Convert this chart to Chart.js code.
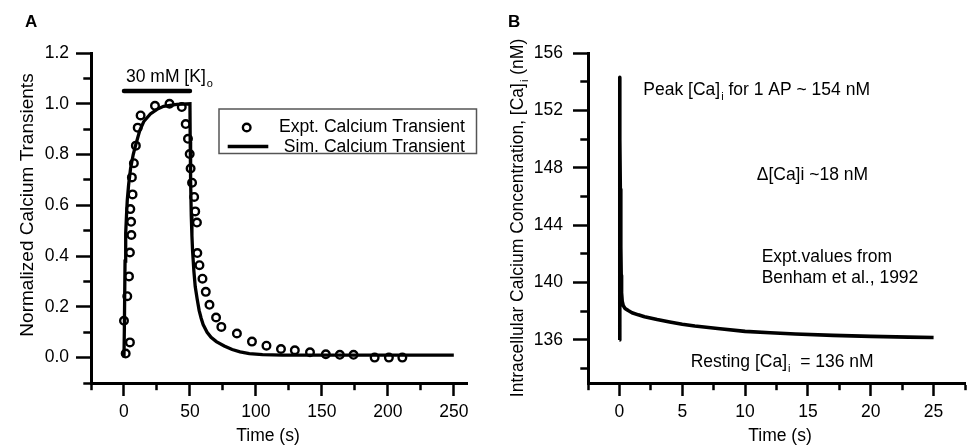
<!DOCTYPE html>
<html>
<head>
<meta charset="utf-8">
<title>Calcium transients</title>
<script src="https://cdn.jsdelivr.net/npm/chart.js@4.4.1/dist/chart.umd.min.js"></script>
<style>
  html, body { margin: 0; padding: 0; background: #fff; }
  .wrap { position: relative; width: 972px; height: 445px; }
  canvas { position: absolute; top: 0; }
  #panelA { left: 0; }
  #panelB { left: 486px; }
</style>
</head>
<body>
<div class="wrap">
  <canvas id="panelA" width="486" height="445"></canvas>
  <canvas id="panelB" width="486" height="445"></canvas>
</div>
<script>
const FONT = '"Liberation Sans", Arial, Helvetica, sans-serif';

// A - response to 30 mM K+ applied from 0 to 50 s
const exptTime = [0, 1.3, 4.5, 2.5, 3.8, 4.5, 5.6, 5.4, 4.8, 6.5, 6, 7.5, 9, 10.4, 12.6, 23.5, 34.5, 43.8, 46.8, 48.5,
  49.8, 50.5, 51.6, 53.2, 54, 55.3, 55.6, 57.2, 59.5, 62, 64.8, 69.8, 73.8, 85.6, 97, 108, 119, 129.5, 141, 153,
  163.6, 174, 190, 200.8, 211];
const exptCa = [0.145, 0.016, 0.06, 0.242, 0.32, 0.414, 0.483, 0.535, 0.585, 0.643, 0.71, 0.766, 0.835, 0.906, 0.954, 0.992, 1.0, 0.987, 0.92, 0.862,
  0.802, 0.745, 0.689, 0.633, 0.576, 0.532, 0.412, 0.364, 0.311, 0.259, 0.208, 0.158, 0.121, 0.095, 0.063, 0.047, 0.034, 0.029, 0.021, 0.013,
  0.011, 0.011, 0.0, 0.0, 0.0];

const simTime = [0, 0.3, 0.8, 1.3, 2, 2.5, 3.5, 5, 7, 9, 12, 15, 20, 25, 30, 40, 50,
  50.2, 50.5, 51, 51.5, 52, 53, 54, 55.5, 57, 58.5, 60, 63, 66, 70, 76, 82, 88, 95, 105, 120, 250];
const simCa = [0, 0.12, 0.38, 0.49, 0.57, 0.62, 0.68, 0.745, 0.8, 0.84, 0.895, 0.93, 0.96, 0.978, 0.99, 0.998, 1.0,
  0.85, 0.7, 0.56, 0.48, 0.42, 0.34, 0.28, 0.23, 0.185, 0.155, 0.13, 0.1, 0.08, 0.063, 0.046, 0.032, 0.023, 0.016, 0.012, 0.01, 0.01];

const kStimTime = [0, 50];
const kStimLevel = [1.05, 1.05];

// B - single action potential
const apTime = [0, 0.02, 0.04, 0.07, 0.1, 0.12, 0.14, 0.17, 0.22, 0.3, 0.45, 0.7, 1, 1.5, 2, 3, 4, 5, 6, 8, 10, 12, 14, 17, 20, 23, 25];
const apCa = [136, 154.3, 150, 146.5, 144.5, 142.5, 140.5, 139.3, 138.7, 138.4, 138.2, 138.05, 137.9, 137.75, 137.62, 137.42, 137.25,
  137.1, 136.97, 136.78, 136.6, 136.5, 136.42, 136.32, 136.25, 136.2, 136.17];

// labelled ticks, the rest are minor
const xLabelsA = [0, 50, 100, 150, 200, 250];
const yLabelsA = [0, 0.2, 0.4, 0.6, 0.8, 1.0, 1.2];
const xLabelsB = [0, 5, 10, 15, 20, 25];
const yLabelsB = [136, 140, 144, 148, 152, 156];

function pts(xs, ys) {
  return xs.map((x, i) => ({ x: x, y: ys[i] }));
}

function hasLabel(list, v) {
  return list.some(l => Math.abs(l - v) < 1e-6);
}

function fontStr(size, weight) {
  return (weight ? weight + ' ' : '') + size + 'px ' + FONT;
}

// parts: plain strings or {sub: 'x'} for a subscript
function partsWidth(ctx, parts, size, weight) {
  let w = 0;
  parts.forEach(p => {
    if (typeof p === 'string') {
      ctx.font = fontStr(size, weight);
      w += ctx.measureText(p).width;
    } else {
      ctx.font = fontStr(Math.round(size * 0.62));
      w += ctx.measureText(p.sub).width + 1;
    }
  });
  return w;
}

function drawParts(ctx, parts, x, y, size, weight) {
  let cx = x;
  parts.forEach(p => {
    if (typeof p === 'string') {
      ctx.font = fontStr(size, weight);
      ctx.fillText(p, cx, y);
      cx += ctx.measureText(p).width;
    } else {
      ctx.font = fontStr(Math.round(size * 0.62));
      ctx.fillText(p.sub, cx + 1, y + size * 0.3);
      cx += ctx.measureText(p.sub).width + 1;
    }
  });
}

const figText = {
  id: 'figText',
  afterDraw(chart, args, opts) {
    const ctx = chart.ctx;
    ctx.save();
    ctx.fillStyle = '#000';
    ctx.textAlign = 'left';
    ctx.textBaseline = 'alphabetic';
    (opts.items || []).forEach(it => {
      const size = it.size || 18;
      const w = partsWidth(ctx, it.parts, size, it.weight);
      ctx.save();
      ctx.translate(it.x, it.y);
      if (it.rotate) ctx.rotate(it.rotate);
      drawParts(ctx, it.parts, it.align === 'center' ? -w / 2 : 0, 0, size, it.weight);
      ctx.restore();
    });
    ctx.restore();
  }
};

// framed legend, text right aligned like the original figure
const boxLegend = {
  id: 'boxLegend',
  afterDraw(chart, args, opts) {
    if (!opts.box) return;
    const ctx = chart.ctx;
    const b = opts.box;
    ctx.save();
    ctx.fillStyle = '#fff';
    ctx.fillRect(b.left, b.top, b.right - b.left, b.bottom - b.top);
    ctx.strokeStyle = '#555';
    ctx.lineWidth = 1.5;
    ctx.strokeRect(b.left, b.top, b.right - b.left, b.bottom - b.top);
    opts.rows.forEach(row => {
      const ds = chart.data.datasets[row.dataset];
      ctx.strokeStyle = '#000';
      if (ds.showLine === false) {
        ctx.lineWidth = ds.pointBorderWidth;
        ctx.beginPath();
        ctx.arc(opts.markerX, row.y, ds.pointRadius, 0, Math.PI * 2);
        ctx.stroke();
      } else {
        ctx.lineWidth = ds.borderWidth;
        ctx.beginPath();
        ctx.moveTo(opts.lineFrom, row.y);
        ctx.lineTo(opts.lineTo, row.y);
        ctx.stroke();
      }
      ctx.fillStyle = '#000';
      ctx.font = fontStr(opts.size);
      ctx.textAlign = 'right';
      ctx.fillText(ds.label, opts.textRight, row.baseline);
    });
    ctx.restore();
  }
};

function axisOpts(cfg) {
  return {
    type: 'linear',
    min: cfg.min,
    max: cfg.max,
    afterFit: s => {
      if (cfg.horizontal) s.height = cfg.fit;
      else s.width = cfg.fit;
    },
    border: { display: true, color: '#000', width: 3 },
    grid: {
      drawOnChartArea: false,
      color: '#000',
      tickLength: cfg.tickLength,
      tickWidth: 2.5,
      // minor ticks are shorter: dash keeps only the part next to the axis
      tickBorderDash: c => (c.tick && !hasLabel(cfg.labels, c.tick.value)) ? cfg.minorDash : []
    },
    ticks: {
      stepSize: cfg.step,
      includeBounds: false,
      autoSkip: false,
      maxRotation: 0,
      padding: cfg.padding,
      color: '#000',
      font: { family: FONT, size: 17.5 },
      callback: v => hasLabel(cfg.labels, v) ? cfg.format(v) : ''
    },
    title: { display: false }
  };
}

const xMinorDash = [5.2, 100];
const yMinorDash = [0, 7.3, 20, 100];

new Chart(document.getElementById('panelA'), {
  type: 'scatter',
  data: {
    datasets: [
      {
        label: 'Expt. Calcium Transient',
        data: pts(exptTime, exptCa),
        showLine: false,
        pointStyle: 'circle',
        pointRadius: 3.8,
        pointBorderWidth: 2.4,
        pointBorderColor: '#000',
        pointBackgroundColor: 'rgba(0,0,0,0)'
      },
      {
        label: 'Sim. Calcium Transient',
        data: pts(simTime, simCa),
        showLine: true,
        borderColor: '#000',
        borderWidth: 3.3,
        pointRadius: 0
      },
      {
        label: '30 mM K',
        data: pts(kStimTime, kStimLevel),
        showLine: true,
        borderColor: '#000',
        borderWidth: 4.5,
        borderCapStyle: 'round',
        pointRadius: 0
      }
    ]
  },
  options: {
    responsive: false,
    animation: false,
    events: [],
    layout: { padding: { top: 53, right: 19, left: 0, bottom: 0 } },
    scales: {
      x: axisOpts({ min: -25, max: 260, step: 25, labels: xLabelsA, format: v => String(v),
        horizontal: true, fit: 62, tickLength: 13, padding: 6, minorDash: xMinorDash }),
      y: axisOpts({ min: -0.1, max: 1.2, step: 0.1, labels: yLabelsA, format: v => v.toFixed(1),
        horizontal: false, fit: 91, tickLength: 15, padding: 7, minorDash: yMinorDash })
    },
    plugins: {
      legend: { display: false },
      tooltip: { enabled: false },
      boxLegend: {
        box: { left: 219, top: 109, right: 476.5, bottom: 153.5 },
        rows: [{ dataset: 0, y: 127.5, baseline: 131.5 }, { dataset: 1, y: 146.5, baseline: 151.5 }],
        markerX: 246.7, lineFrom: 227.7, lineTo: 268.3, textRight: 465, size: 17.6
      },
      figText: {
        items: [
          { parts: ['A'], x: 25, y: 27, size: 17, weight: 'bold' },
          { parts: ['30 mM [K]', { sub: 'o' }], x: 126, y: 81.5, size: 17.5 },
          { parts: ['Normalized Calcium Transients'], x: 32.5, y: 205, size: 19, rotate: -Math.PI / 2, align: 'center' },
          { parts: ['Time (s)'], x: 268, y: 441, size: 17.5, align: 'center' }
        ]
      }
    }
  },
  plugins: [boxLegend, figText]
});

new Chart(document.getElementById('panelB'), {
  type: 'scatter',
  data: {
    datasets: [
      {
        label: 'Simulated [Ca]i',
        data: pts(apTime, apCa),
        showLine: true,
        borderColor: '#000',
        borderWidth: 3.6,
        borderJoinStyle: 'round',
        pointRadius: 0
      }
    ]
  },
  options: {
    responsive: false,
    animation: false,
    events: [],
    layout: { padding: { top: 53, right: 7, left: 0, bottom: 0 } },
    scales: {
      x: axisOpts({ min: -2.5, max: 27.5, step: 2.5, labels: xLabelsB, format: v => String(v),
        horizontal: true, fit: 62, tickLength: 13, padding: 6, minorDash: xMinorDash }),
      y: axisOpts({ min: 133, max: 156, step: 2, labels: yLabelsB, format: v => String(v),
        horizontal: false, fit: 102, tickLength: 15, padding: 10, minorDash: yMinorDash })
    },
    plugins: {
      legend: { display: false },
      tooltip: { enabled: false },
      figText: {
        items: [
          { parts: ['B'], x: 22, y: 27, size: 17, weight: 'bold' },
          { parts: ['Intracellular Calcium Concentration, [Ca]', { sub: 'i' }, ' (nM)'], x: 36.5, y: 218, size: 17.5, rotate: -Math.PI / 2, align: 'center' },
          { parts: ['Time (s)'], x: 294, y: 441, size: 17.5, align: 'center' },
          { parts: ['Peak [Ca]', { sub: 'i' }, ' for 1 AP ~ 154 nM'], x: 157.3, y: 95, size: 17.5 },
          { parts: ['\u0394[Ca]i ~18 nM'], x: 270.7, y: 180, size: 17.5 },
          { parts: ['Expt.values from'], x: 275.7, y: 261.5, size: 17.5 },
          { parts: ['Benham et al., 1992'], x: 275.7, y: 282.7, size: 17.5 },
          { parts: ['Resting [Ca]', { sub: 'i' }, '  = 136 nM'], x: 204.7, y: 366.7, size: 17.5 }
        ]
      }
    }
  },
  plugins: [figText]
});
</script>
</body>
</html>
